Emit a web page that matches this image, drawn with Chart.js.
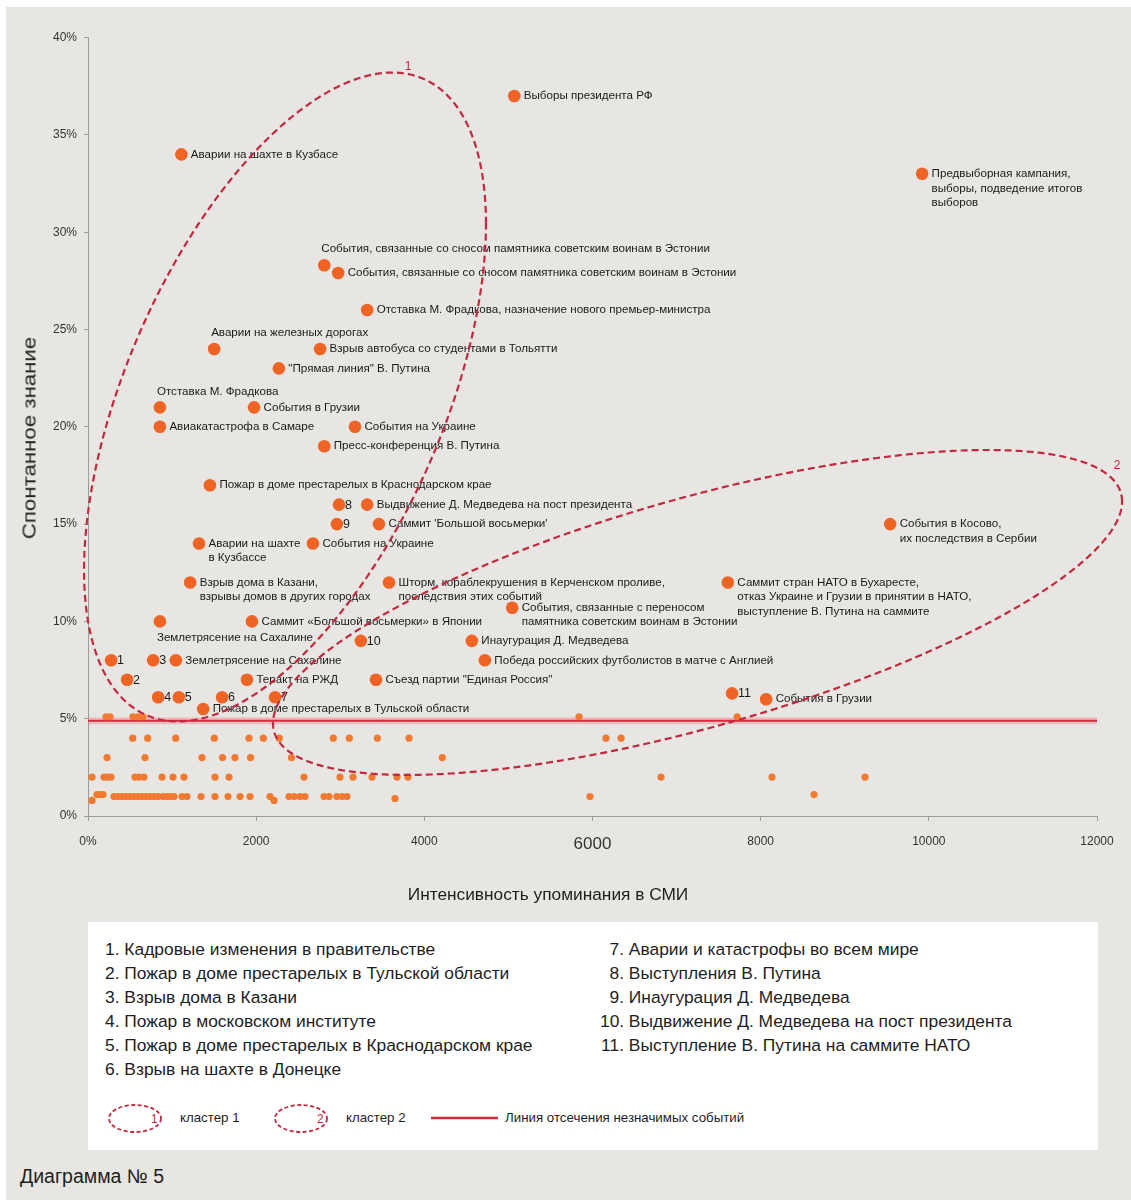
<!DOCTYPE html>
<html lang="ru">
<head>
<meta charset="utf-8">
<title>Диаграмма № 5</title>
<script src="https://cdn.jsdelivr.net/npm/chart.js@4.4.1/dist/chart.umd.min.js"></script>
<style>
  html, body { margin:0; padding:0; background:#ffffff; }
  #page { position:relative; width:1131px; height:1200px; overflow:hidden; background:#ffffff;
          font-family:"Liberation Sans", Arial, sans-serif; color:#1e1e1e; }
  #panel { position:absolute; left:6px; top:7px; width:1125px; height:1193px; background:#e8e6e2; }
  #chartBox { position:absolute; left:0; top:0; width:1131px; height:920px; }
  #yTitle { position:absolute; left:28.5px; top:438px; font-size:19px; line-height:1; white-space:nowrap;
            transform: translate(-50%,-50%) rotate(-90deg) scaleX(1.17); }
  #xTitle { position:absolute; left:548px; top:895px; font-size:17.3px; line-height:1; white-space:nowrap;
            transform: translate(-50%,-50%); }
  #legendBox { position:absolute; left:88px; top:922px; width:1010px; height:228px; background:#ffffff; }
  .col { position:absolute; top:15px; font-size:17.4px; line-height:24px; white-space:nowrap; }
  .num { display:inline-block; width:24px; text-align:right; }
  .small { position:absolute; font-size:13.3px; line-height:1; white-space:nowrap; transform:translateY(-50%); }
  .icon { position:absolute; }
  #caption { position:absolute; left:20px; top:1177px; font-size:19.5px; line-height:1; white-space:nowrap;
             transform:translateY(-50%); }
</style>
</head>
<body>
<div id="page">
  <div id="panel"></div>
  <div id="chartBox"><canvas id="c" width="1131" height="920"></canvas></div>
  <div id="yTitle">Спонтанное знание</div>
  <div id="xTitle">Интенсивность упоминания в СМИ</div>
  <div id="legendBox">
    <div class="col" id="colLeft" style="left:17px"></div>
    <div class="col" id="colRight" style="left:512px"></div>
    <svg class="icon" style="left:19px;top:181px" width="58" height="31" viewBox="0 0 58 31">
      <ellipse cx="28" cy="15.5" rx="26" ry="13.5" fill="none" stroke="#c3283f" stroke-width="1.8" stroke-dasharray="4 2.5"/>
      <text x="44" y="20" font-size="12" fill="#c3283f" font-family="Liberation Sans, Arial">1</text>
    </svg>
    <div class="small" style="left:92px;top:196px">кластер 1</div>
    <svg class="icon" style="left:185px;top:181px" width="58" height="31" viewBox="0 0 58 31">
      <ellipse cx="28" cy="15.5" rx="26" ry="13.5" fill="none" stroke="#c3283f" stroke-width="1.8" stroke-dasharray="4 2.5"/>
      <text x="44" y="20" font-size="12" fill="#c3283f" font-family="Liberation Sans, Arial">2</text>
    </svg>
    <div class="small" style="left:258px;top:196px">кластер 2</div>
    <svg class="icon" style="left:343px;top:193px" width="68" height="6" viewBox="0 0 68 6">
      <line x1="0" y1="3" x2="67" y2="3" stroke="#d92a3c" stroke-width="2.4"/>
    </svg>
    <div class="small" style="left:417px;top:196px">Линия отсечения незначимых событий</div>
  </div>
  <div id="caption">Диаграмма № 5</div>
</div>
<script>
// ---------- data ----------
const xTicks = [0, 2000, 4000, 6000, 8000, 10000, 12000];
const yTicks = [0, 5, 10, 15, 20, 25, 30, 35, 40];

// events above the cutoff line
const eventX = [5070, 1110, 9920, 2810, 2975, 3320, 1500, 2760, 2270, 855, 1975, 855, 3175, 2810, 1450,
                2985, 3320, 2960, 3460, 1320, 2675, 1215, 3580, 5045, 855, 1950, 3245, 4565, 4720,
                275, 775, 1045, 465, 1890, 3425, 835, 1080, 1595, 2225, 1370, 7610, 9540, 7660, 8065];
const eventY = [37.0, 34.0, 33.0, 28.3, 27.9, 26.0, 24.0, 24.0, 23.0, 21.0, 21.0, 20.0, 20.0, 19.0, 17.0,
                16.0, 16.0, 15.0, 15.0, 14.0, 14.0, 12.0, 12.0, 10.7, 10.0, 10.0, 9.0, 9.0, 8.0,
                8.0, 8.0, 8.0, 7.0, 7.0, 7.0, 6.1, 6.1, 6.1, 6.1, 5.5, 12.0, 15.0, 6.3, 6.0];
const eventText = [
  'Выборы президента РФ',
  'Аварии на шахте в Кузбасе',
  'Предвыборная кампания,\nвыборы, подведение итогов\nвыборов',
  'События, связанные со сносом памятника советским воинам в Эстонии',
  'События, связанные со сносом памятника советским воинам в Эстонии',
  'Отставка М. Фрадкова, назначение нового премьер-министра',
  'Аварии на железных дорогах',
  'Взрыв автобуса со студентами в Тольятти',
  '"Прямая линия" В. Путина',
  'Отставка М. Фрадкова',
  'События в Грузии',
  'Авиакатастрофа в Самаре',
  'События на Украине',
  'Пресс-конференция В. Путина',
  'Пожар в доме престарелых в Краснодарском крае',
  '8',
  'Выдвижение Д. Медведева на пост президента',
  '9',
  "Саммит 'Большой восьмерки'",
  'Аварии на шахте\nв Кузбассе',
  'События на Украине',
  'Взрыв дома в Казани,\nвзрывы домов в других городах',
  'Шторм, кораблекрушения в Керченском проливе,\nпоследствия этих событий',
  'События, связанные с переносом\nпамятника советским воинам в Эстонии',
  'Землетрясение на Сахалине',
  'Саммит «Большой восьмерки» в Японии',
  '10',
  'Инаугурация Д. Медведева',
  'Победа российских футболистов в матче с Англией',
  '1', '3',
  'Землетрясение на Сахалине',
  '2',
  'Теракт на РЖД',
  'Съезд партии "Единая Россия"',
  '4', '5', '6', '7',
  'Пожар в доме престарелых в Тульской области',
  'Саммит стран НАТО в Бухаресте,\nотказ Украине и Грузии в принятии в НАТО,\nвыступление В. Путина на саммите',
  'События в Косово,\nих последствия в Сербии',
  '11',
  'События в Грузии'
];
// r = right of the point, a = above, b = below, n = number tag
const eventPlace = ['r','r','r','a','r','r','a','r','r','a','r','r','r','r','r',
                    'n','r','n','r','r','r','r','r','r','b','r','n','r','r',
                    'n','n','r','n','r','r','n','n','n','n','r','r','r','n','r'];

// minor events (below / at the cutoff line)
const minorX = [214, 262, 535, 595, 654, 5840, 7720,
                532, 710, 1043, 1502, 1915, 2085, 2275, 2917, 3108, 3441, 3818, 6160, 6340,
                226, 678, 1356, 1600, 1748, 1933, 2420, 4214,
                48, 190, 238, 274, 559, 607, 666, 880, 1011, 1142, 1510, 1677, 2569, 2997, 3152, 3378, 3675, 3806, 6815, 8135, 9241,
                48, 107, 143, 178, 309, 357, 404, 452, 500, 547, 595, 642, 690, 737, 785, 833, 892, 940, 975, 1023,
                1118, 1177, 1344, 1510, 1665, 1808, 1927, 2165, 2212, 2390, 2450, 2521, 2581, 2807, 2866, 2961, 3021, 3080,
                3651, 5970, 8634];
const minorY = [5.1, 5.1, 5.1, 5.1, 5.1, 5.1, 5.1,
                4.0, 4.0, 4.0, 4.0, 4.0, 4.0, 4.0, 4.0, 4.0, 4.0, 4.0, 4.0, 4.0,
                3.0, 3.0, 3.0, 3.0, 3.0, 3.0, 3.0, 3.0,
                2.0, 2.0, 2.0, 2.0, 2.0, 2.0, 2.0, 2.0, 2.0, 2.0, 2.0, 2.0, 2.0, 2.0, 2.0, 2.0, 2.0, 2.0, 2.0, 2.0, 2.0,
                0.8, 1.1, 1.1, 1.1, 1.0, 1.0, 1.0, 1.0, 1.0, 1.0, 1.0, 1.0, 1.0, 1.0, 1.0, 1.0, 1.0, 1.0, 1.0, 1.0,
                1.0, 1.0, 1.0, 1.0, 1.0, 1.0, 1.0, 1.0, 0.8, 1.0, 1.0, 1.0, 1.0, 1.0, 1.0, 1.0, 1.0, 1.0,
                0.9, 1.0, 1.1];

const cutoffValue = 4.9;           // линия отсечения незначимых событий
// cluster ellipses in data units: [centre x, centre y, x half-extent, y shift at x extreme, y minor term]
const cluster1 = [2343, 21.53, 2390, 8.9, 14.1];
const cluster2 = [7249, 10.46, 5049, 5.70, 6.10];
const clusterNames = ['1', '2'];
const clusterLabelX = [3806, 12238];
const clusterLabelY = [38.5, 18.0];

const legendNotes = [
  'Кадровые изменения в правительстве',
  'Пожар в доме престарелых в Тульской области',
  'Взрыв дома в Казани',
  'Пожар в московском институте',
  'Пожар в доме престарелых в Краснодарском крае',
  'Взрыв на шахте в Донецке',
  'Аварии и катастрофы во всем мире',
  'Выступления В. Путина',
  'Инаугурация Д. Медведева',
  'Выдвижение Д. Медведева на пост президента',
  'Выступление В. Путина на саммите НАТО'
];

// ---------- legend (HTML text) ----------
const left = document.getElementById('colLeft');
const right = document.getElementById('colRight');
legendNotes.forEach((t, i) => {
  const d = document.createElement('div');
  if (i < 6) { d.textContent = (i + 1) + '. ' + t; left.appendChild(d); }
  else {
    const n = document.createElement('span'); n.className = 'num'; n.textContent = (i + 1) + '.';
    d.appendChild(n); d.appendChild(document.createTextNode(' ' + t)); right.appendChild(d);
  }
});

// ---------- chart ----------
const FONT = '"Liberation Sans", Arial, sans-serif';
Chart.defaults.font.family = FONT;
const ORANGE = '#ef6424';
const CRIMSON = '#c3283f';

const overlay = {
  id: 'overlay',
  afterDatasetsDraw(chart) {
    const {ctx, scales: {x, y}} = chart;
    ctx.save();
    // point labels
    ctx.fillStyle = '#1a1a1a';
    ctx.textBaseline = 'middle';
    ctx.textAlign = 'left';
    eventText.forEach((t, i) => {
      const px = x.getPixelForValue(eventX[i]);
      const py = y.getPixelForValue(eventY[i]);
      const p = eventPlace[i];
      if (p === 'n') {
        ctx.font = '12.5px ' + FONT;
        ctx.fillText(t, px + 6, py + 0.5);
        return;
      }
      ctx.font = '11.6px ' + FONT;
      const lines = t.split('\n');
      let tx = px + 9.5, ty = py;
      if (p === 'a') { tx = px - 3; ty = py - 16; }
      if (p === 'b') { tx = px - 3; ty = py + 16; }
      lines.forEach((ln, k) => ctx.fillText(ln, tx, ty + k * 14.5));
    });
    // cluster ellipses
    ctx.strokeStyle = CRIMSON;
    ctx.lineWidth = 2.2;
    ctx.setLineDash([7, 4]);
    [cluster1, cluster2].forEach(e => {
      const [cx, cy, rx, ky, ry] = e;
      ctx.beginPath();
      for (let i = 0; i <= 720; i++) {
        const t = i * Math.PI / 360;
        const px = x.getPixelForValue(cx + rx * Math.cos(t));
        const py = y.getPixelForValue(cy + ky * Math.cos(t) + ry * Math.sin(t));
        if (i === 0) ctx.moveTo(px, py); else ctx.lineTo(px, py);
      }
      ctx.closePath();
      ctx.stroke();
    });
    ctx.setLineDash([]);
    ctx.fillStyle = CRIMSON;
    ctx.font = '12px ' + FONT;
    ctx.textAlign = 'center';
    clusterNames.forEach((n, i) => {
      ctx.fillText(n, x.getPixelForValue(clusterLabelX[i]), y.getPixelForValue(clusterLabelY[i]));
    });
    ctx.restore();
  }
};

new Chart(document.getElementById('c'), {
  type: 'scatter',
  data: {
    datasets: [
      {
        type: 'line', label: 'halo',
        data: [{x: xTicks[0], y: cutoffValue}, {x: xTicks[xTicks.length - 1], y: cutoffValue}],
        borderColor: 'rgba(236,120,132,0.35)', borderWidth: 7, pointRadius: 0, order: 4
      },
      {
        type: 'line', label: 'Линия отсечения незначимых событий',
        data: [{x: xTicks[0], y: cutoffValue}, {x: xTicks[xTicks.length - 1], y: cutoffValue}],
        borderColor: '#d92a3c', borderWidth: 2, pointRadius: 0, order: 3
      },
      {
        label: 'Незначимые события',
        data: minorX.map((v, i) => ({x: v, y: minorY[i]})),
        pointRadius: 3.6, pointHoverRadius: 3.6, backgroundColor: '#f27a30', borderWidth: 0, order: 2
      },
      {
        label: 'События',
        data: eventX.map((v, i) => ({x: v, y: eventY[i]})),
        pointRadius: 6.3, pointHoverRadius: 6.3, backgroundColor: ORANGE, borderWidth: 0, order: 1
      }
    ]
  },
  options: {
    responsive: false,
    animation: false,
    events: [],
    layout: { padding: { top: 37.6, right: 34, left: 0, bottom: 0 } },
    plugins: { legend: { display: false }, tooltip: { enabled: false } },
    scales: {
      x: {
        type: 'linear', min: xTicks[0], max: xTicks[xTicks.length - 1],
        afterBuildTicks: s => { s.ticks = xTicks.map(v => ({value: v})); },
        afterFit: s => { s.height = 104; s.paddingLeft = 0; s.paddingRight = 0; },
        ticks: {
          autoSkip: false, maxRotation: 0, padding: 13.5, color: '#333',
          font: c => ({ family: FONT, size: (c.tick && c.tick.value === 6000) ? 17 : 12 }),
          callback: v => v === 0 ? '0%' : String(v)
        },
        grid: { drawOnChartArea: false, drawTicks: true, tickLength: 5, color: '#9c9c9c' },
        border: { display: true, color: '#9c9c9c', width: 1 }
      },
      y: {
        type: 'linear', min: yTicks[0], max: yTicks[yTicks.length - 1],
        afterBuildTicks: s => { s.ticks = yTicks.map(v => ({value: v})); },
        afterFit: s => { s.width = 88; s.paddingTop = 0; s.paddingBottom = 0; },
        ticks: { padding: 7, color: '#333', font: { family: FONT, size: 12 }, callback: v => v + '%' },
        grid: { drawOnChartArea: false, drawTicks: true, tickLength: 4, color: '#9c9c9c' },
        border: { display: true, color: '#9c9c9c', width: 1 }
      }
    }
  },
  plugins: [overlay]
});
</script>
</body>
</html>
